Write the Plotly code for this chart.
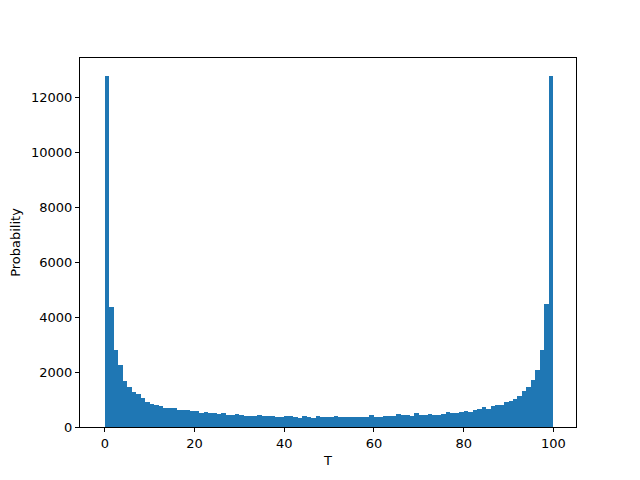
import plotly.graph_objects as go

# histogram bins: left edge of each unit-wide bin from 0 to 100
bin_left = list(range(100))

counts = [
    12800, 4355, 2790, 2245, 1660, 1443, 1262, 1189, 1043, 898,
    825, 789, 752, 679, 679, 679, 606, 606, 606, 570,
    570, 497, 534, 497, 497, 461, 497, 425, 425, 461,
    425, 388, 388, 388, 425, 388, 388, 388, 370, 352,
    388, 388, 370, 340, 388, 370, 340, 388, 360, 360,
    360, 388, 360, 360, 352, 352, 352, 352, 352, 425,
    370, 370, 388, 388, 400, 461, 425, 425, 388, 497,
    425, 425, 461, 425, 425, 461, 534, 497, 497, 534,
    570, 534, 606, 643, 716, 643, 752, 789, 789, 898,
    934, 1007, 1116, 1298, 1444, 1698, 2063, 2790, 4465, 12800,
]

x_ticks = [0, 20, 40, 60, 80, 100]
y_ticks = [0, 2000, 4000, 6000, 8000, 10000, 12000]

fig = go.Figure()
fig.add_trace(go.Bar(
    x=[b + 0.5 for b in bin_left],
    y=counts,
    width=1,
    marker=dict(color='#1f77b4', line=dict(width=0)),
    showlegend=False,
))

axis_style = dict(
    showgrid=False, zeroline=False, automargin=False,
    showline=True, linecolor='black', linewidth=1, mirror=True,
    ticks='outside', ticklen=4, tickcolor='black',
    tickfont=dict(size=13, color='black'),
    tickformat='d',
)

# page body has an 8px margin, so the figure is sized/offset to compensate
fig.update_layout(
    width=632, height=472,
    margin=dict(l=72, r=64, t=50, b=53),
    plot_bgcolor='white', paper_bgcolor='white',
    font=dict(family='DejaVu Sans', color='black'),
    bargap=0,
    xaxis=dict(range=[-5.55, 105.05], tickvals=x_ticks,
               title=dict(text='T', font=dict(size=13), standoff=6), **axis_style),
    yaxis=dict(range=[0, 13440], tickvals=y_ticks,
               title=dict(text='Probability', font=dict(size=13), standoff=8), **axis_style),
)

fig.write_html("out.html")
